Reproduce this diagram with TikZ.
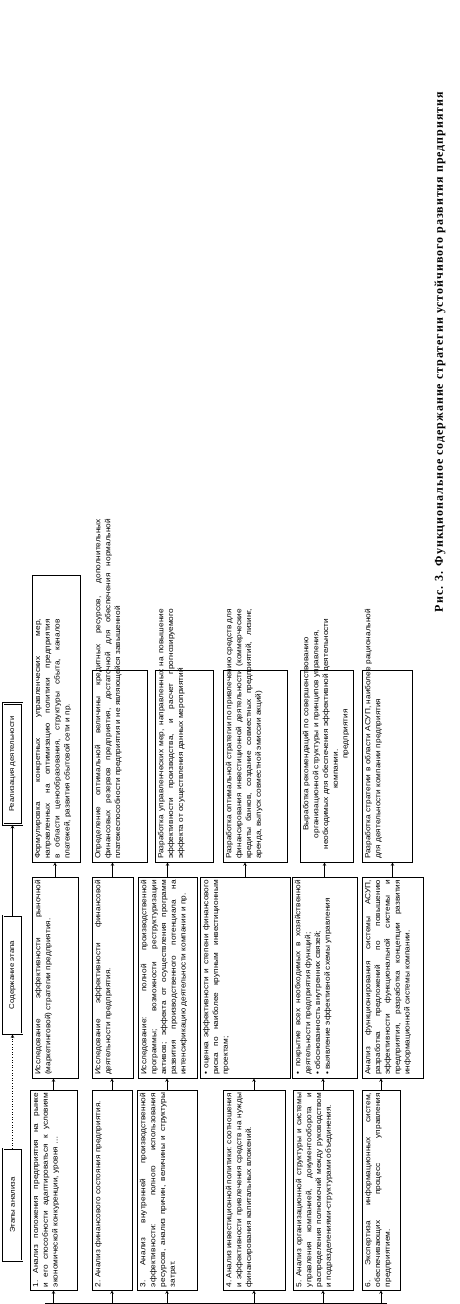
\documentclass[tikz,border=0pt]{standalone}
\usepackage{fontspec}
\setmainfont{Liberation Serif}
\newfontfamily\cellfont[FakeStretch=1.12]{Liberation Sans}
\newfontfamily\capfont[LetterSpace=8]{Liberation Serif}
\usetikzlibrary{arrows,positioning}

\newcommand{\celltxt}[3]{\parbox[c][#2][t]{#1}{\cellfont\fontsize{7.4}{9.8}\selectfont\sloppy #3}}

\begin{document}
\begin{tikzpicture}[x=1pt, y=1pt,
    cell/.style={rectangle, draw=black, line width=0.6pt, rotate=90, inner sep=3pt},
    head/.style={rectangle, draw=black, double, double distance=1pt, line width=0.8pt, rotate=90, inner sep=0pt,
                 minimum height=19pt, font=\cellfont\fontsize{7}{8}\selectfont},
    arr/.style={->, >=stealth, line width=0.6pt}
]
    \useasboundingbox (0,0) rectangle (460,1304);

    % Header row
    \node[head, minimum width=112pt] (h1) at (12.5,99)  {Этапы анализа};
    \node[head, minimum width=118pt] (h2) at (12.5,329) {Содержание этапа};
    \node[head, minimum width=121pt] (h3) at (12.5,540) {Реализация деятельности};

    % Column 1 -- stages
    \node[cell] (c11) at (53.5,114) {\celltxt{194pt}{41pt}{1.~Анализ положения предприятия на рынке и его способности адаптироваться к условиям экономической конкуренции, уровня \dots}};
    \node[cell] (c12) at (112,114)  {\celltxt{194pt}{34pt}{2.~Анализ финансового состояния предприятия.}};
    \node[cell] (c13) at (167,114)  {\celltxt{194pt}{54pt}{3.~Анализ внутренней производственной эффективности: полного использования ресурсов, анализ причин, величины и структуры затрат.}};
    \node[cell] (c14) at (254,114)  {\celltxt{194pt}{56pt}{4.~Анализ инвестиционной политики: соотношения и эффективности привлечения средств на нужды финансирования капитальных вложений.}};
    \node[cell] (c15) at (323,114)  {\celltxt{194pt}{54pt}{5.~Анализ организационной структуры и системы управления компанией, документооборота и распределения полномочий между руководством и подразделениями-структурами объединения.}};
    \node[cell] (c16) at (381,114)  {\celltxt{194pt}{32pt}{6.~Экспертиза информационных систем, обеспечивающих процесс управления предприятием.}};

    % Column 2 -- content of the stage
    \node[cell] (c21) at (55,326.5)    {\celltxt{195pt}{40pt}{Исследование эффективности рыночной (маркетинговой) стратегии предприятия.}};
    \node[cell] (c22) at (112.5,326.5) {\celltxt{195pt}{35pt}{Исследование эффективности финансовой деятельности предприятия.}};
    \node[cell] (c23) at (167.5,326.5) {\celltxt{195pt}{53pt}{Исследование: полной производственной программы; возможности реструктуризации активов; эффекта от осуществления программ развития производственного потенциала на интенсификацию деятельности компании и пр.}};
    \node[cell] (c24) at (245,326.5)   {\celltxt{195pt}{84pt}{\textbullet~оценка эффективности и степени финансового риска по наиболее крупным инвестиционным проектам;}};
    \node[cell] (c25) at (324.5,326.5) {\celltxt{195pt}{59pt}{\textbullet~покрытие всех необходимых в хозяйственной деятельности предприятия функций;\\ \textbullet~обоснованность внутренних связей;\\ \textbullet~выявление эффективной схемы управления}};
    \node[cell] (c26) at (392.5,326.5) {\celltxt{195pt}{55pt}{Анализ функционирования системы АСУП, разработка предложений по повышению эффективности функциональной системы и предприятия, разработка концепции развития информационной системы компании.}};

    % Column 3 -- result (text runs past the frames, as printed)
    \node[cell] (c31) at (56,585.5)  {\makebox[281pt][l]{\celltxt{240pt}{42pt}{Формулировка конкретных управленческих мер, направленных на оптимизацию политики предприятия в области ценообразования, структуры сбыта, каналов платежей, развития сбытовой сети и пр.}}};
    \node[cell] (c32) at (119.5,538) {\makebox[186pt][l]{\celltxt{340pt}{49pt}{Определение оптимальной величины кредитных ресурсов, дополнительных финансовых резервов предприятия, достаточной для обеспечения нормальной платежеспособности предприятия и не являющейся завышенной}}};
    \node[cell] (c33) at (184,538)   {\makebox[186pt][l]{\celltxt{250pt}{52pt}{Разработка управленческих мер, направленных на повышение эффективности производства, и расчет прогнозируемого эффекта от осуществления данных мероприятий}}};
    \node[cell] (c34) at (255,538)   {\makebox[186pt][l]{\celltxt{250pt}{58pt}{Разработка оптимальной стратегии по привлечению средств для финансирования инвестиционной деятельности (коммерческие кредиты банков, создание совместных предприятий, лизинг, аренда, выпуск совместной эмиссии акций)}}};
    \node[cell] (c35) at (326.5,538) {\makebox[186pt][l]{\celltxt{250pt}{47pt}{Выработка рекомендаций по совершенствованию организационной структуры и принципов управления, необходимых для обеспечения эффективной деятельности компании.\\ \centering предприятия}}};
    \node[cell] (c36) at (387,538)   {\makebox[186pt][l]{\celltxt{250pt}{44pt}{Разработка стратегии в области АСУП, наиболее рациональной для деятельности компании предприятия}}};

    % Caption
    \node[rotate=90, font=\capfont\bfseries\fontsize{12}{14}\selectfont] (cap) at (440,952)
        {Рис. 3. Функциональное содержание стратегии устойчивого развития предприятия};

    % Header chain
    \draw[arr, dotted] (h1.east) -- (h2.west);
    \draw[arr] (h2.east) -- (h3.west);

    % Bus into column 1
    \coordinate (busA) at (45,1);
    \coordinate (busB) at (387,1);
    \draw[line width=0.6pt] (busA) -- (busB);
    \foreach \i in {1,...,6}
        \draw[arr] (c1\i |- busA) -- (c1\i.west);

    % Column 1 -> 2 -> 3
    \foreach \i in {1,...,6} {
        \draw[arr] (c1\i.east) -- (c1\i.east |- c2\i.west);
        \draw[arr] (c2\i.east) -- (c2\i.east |- c3\i.west);
    }
\end{tikzpicture}
\end{document}
